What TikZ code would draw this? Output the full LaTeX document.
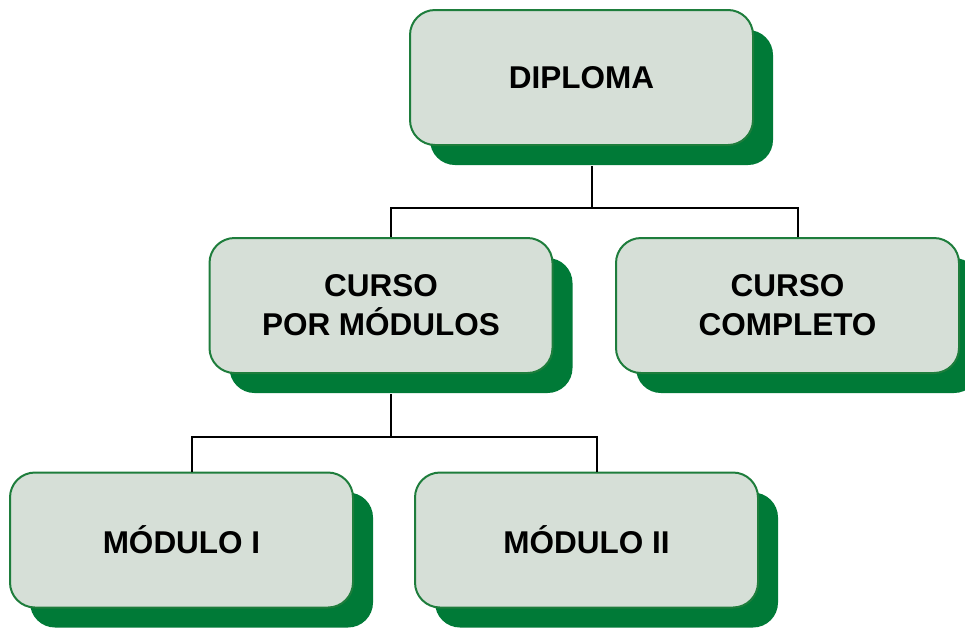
\documentclass[tikz,border=0pt]{standalone}
\usepackage{fontspec}
\setmainfont{Liberation Sans}
\usetikzlibrary{shadows}
\definecolor{boxfill}{RGB}{214,223,215}
\definecolor{boxline}{RGB}{30,125,60}
\definecolor{shadowgreen}{RGB}{0,122,55}
\tikzset{
  card/.style={draw=boxline, line width=2pt, fill=boxfill, rounded corners=25pt,
    minimum width=343pt, minimum height=135pt, inner sep=0pt, align=center,
    font=\fontsize{31.5}{39}\selectfont\bfseries,
    drop shadow={shadow xshift=20pt, shadow yshift=-20pt, fill=shadowgreen, opacity=1}},
  conn/.style={draw=black, line width=2pt}
}
\begin{document}
\begin{tikzpicture}[x=1pt,y=-1pt]
\useasboundingbox (0,0) rectangle (965,630);
\node[card] (diploma) at (581.5,77.5) {DIPLOMA};
%%%%%%%%%%%%%%%%
\node[card] (modulos) at (381,305.5) {CURSO\\POR MÓDULOS};
\node[card] (completo) at (787.5,305.5) {CURSO\\COMPLETO};
%%%%%%%%%%%%%%%%
\node[card] (moduloI) at (181.5,540) {MÓDULO I};
\node[card] (moduloII) at (586.5,540) {MÓDULO II};
%%%%%%%%%%%%%%%%
\coordinate (forkA) at ([xshift=10pt]diploma.south |- 0,208);
\draw[conn] ([xshift=10pt,yshift=-20pt]diploma.south) -- (forkA);
\draw[conn] ([xshift=10pt]modulos.north) |- (forkA) -| ([xshift=10pt]completo.north);
%%%%%%%%%%%%%%%%
\coordinate (forkB) at ([xshift=10pt]modulos.south |- 0,437);
\draw[conn] ([xshift=10pt,yshift=-20pt]modulos.south) -- (forkB);
\draw[conn] ([xshift=10pt]moduloI.north) |- (forkB) -| ([xshift=10pt]moduloII.north);
\end{tikzpicture}
\end{document}
